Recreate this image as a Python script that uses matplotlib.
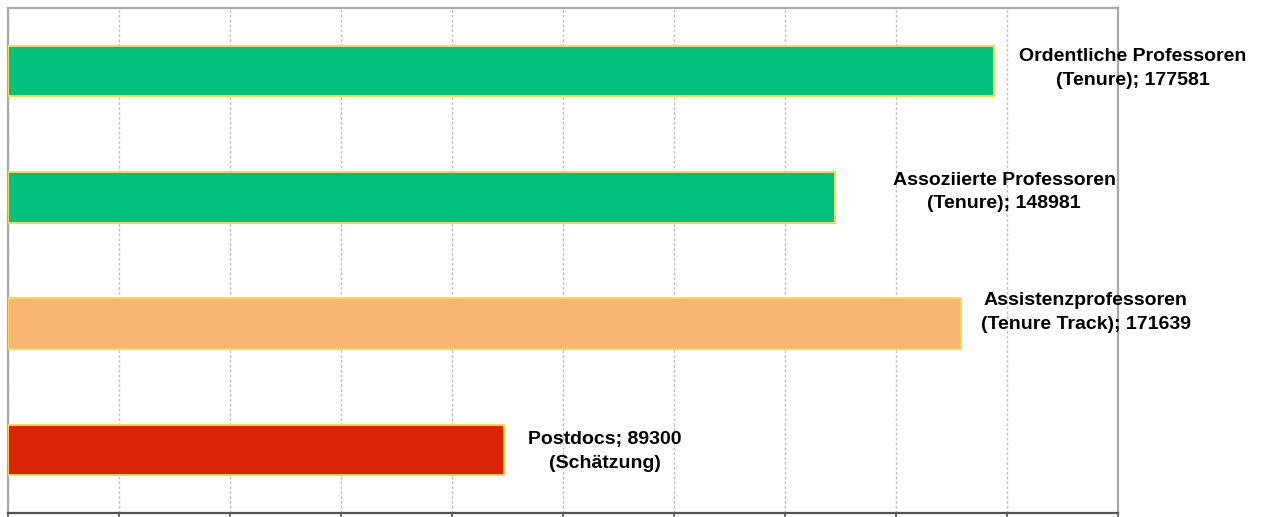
import matplotlib.pyplot as plt

# data (top to bottom)
categories = [
    "Ordentliche Professoren\n(Tenure)",
    "Assoziierte Professoren\n(Tenure)",
    "Assistenzprofessoren\n(Tenure Track)",
    "Postdocs",
]
values = [177581, 148981, 171639, 89300]
suffix = ["", "", "", "\n(Schätzung)"]
colors = ["#00C17E", "#00C17E", "#F9B574", "#D92406"]

plt.rcParams["font.family"] = ["Liberation Sans", "DejaVu Sans"]

fig = plt.figure(figsize=(12.63, 5.17), dpi=100)
ax = fig.add_axes([8 / 1263, 1 - 513 / 517, 1110 / 1263, 505 / 517])

y = list(range(len(values)))
ax.barh(y, values, height=0.4, color=colors, edgecolor="#FFD54F",
        linewidth=1.4, zorder=3)

ax.set_xlim(0, 200000)
ax.set_ylim(len(values) - 0.5, -0.5)
ax.set_xticks(range(0, 200001, 20000))
ax.set_yticks([])
ax.tick_params(axis="x", direction="out", length=4, width=1.2,
               color="#555555", labelbottom=False)
ax.grid(axis="x", color="#c0c0c0", linestyle=(0, (2, 1.5)), linewidth=1,
        zorder=0)

for s in ["top", "left", "right"]:
    ax.spines[s].set_color("#a8a8a8")
    ax.spines[s].set_linewidth(1.6)
ax.spines["bottom"].set_color("#555555")
ax.spines["bottom"].set_linewidth(1.6)

# label placement per bar (offset in points from bar end)
offsets = [(100, 2), (122, 4), (90, 8), (73, -1)]
for i, v in enumerate(values):
    lines = categories[i].split("\n")
    if len(lines) == 2:
        txt = f"{lines[0]}\n{lines[1]}; {v}"
    else:
        txt = f"{lines[0]}; {v}{suffix[i]}"
    ax.annotate(txt, xy=(v, i), xytext=offsets[i], textcoords="offset points",
                ha="center", va="center", fontsize=14, fontweight="bold",
                linespacing=1.5, annotation_clip=False, zorder=5)

fig.savefig("out.png", dpi=100)
